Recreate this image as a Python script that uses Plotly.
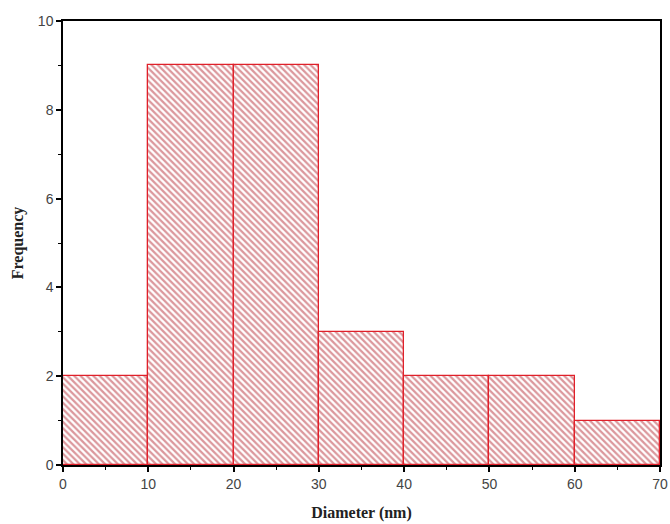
import plotly.graph_objects as go

bin_starts = [0, 10, 20, 30, 40, 50, 60]
bin_width = 10
counts = [2, 9, 9, 3, 2, 2, 1]
x_ticks = [0, 10, 20, 30, 40, 50, 60, 70]
y_ticks = [0, 2, 4, 6, 8, 10]

centers = [s + bin_width / 2 for s in bin_starts]

fig = go.Figure()
fig.add_trace(go.Bar(
    x=centers, y=counts, width=[bin_width] * len(counts),
    marker=dict(
        color="white",
        line=dict(color="#e0202a", width=1.3),
        pattern=dict(shape="\\", fgcolor="#b8303a", bgcolor="white",
                     size=4.5, solidity=0.5, fillmode="overlay"),
    ),
))

axis_common = dict(
    showline=True, linecolor="black", linewidth=1.5, mirror=True,
    ticks="outside", ticklen=5, tickwidth=1.5, tickcolor="black",
    showgrid=False, zeroline=False, automargin=False,
    tickfont=dict(family="Arial, Liberation Sans, sans-serif", size=14, color="#444"),
)

fig.update_layout(
    width=670, height=524,
    margin=dict(l=63, r=10, t=21, b=59),
    paper_bgcolor="white", plot_bgcolor="white",
    bargap=0, showlegend=False,
    xaxis=dict(range=[0, 70], tickvals=x_ticks,
               minor=dict(tickvals=[5, 15, 25, 35, 45, 55, 65], ticks="outside",
                          ticklen=3, tickwidth=1.2, tickcolor="black"),
               title=dict(text="<b>Diameter (nm)</b>", standoff=16,
                          font=dict(family="Liberation Serif, Times New Roman, serif", size=16, color="#222")),
               **axis_common),
    yaxis=dict(range=[0, 10], tickvals=y_ticks,
               minor=dict(tickvals=[1, 3, 5, 7, 9], ticks="outside",
                          ticklen=3, tickwidth=1.2, tickcolor="black"),
               title=dict(text="<b>Frequency</b>", standoff=10,
                          font=dict(family="Liberation Serif, Times New Roman, serif", size=16, color="#222")),
               **axis_common),
)

fig.write_html("out.html")
